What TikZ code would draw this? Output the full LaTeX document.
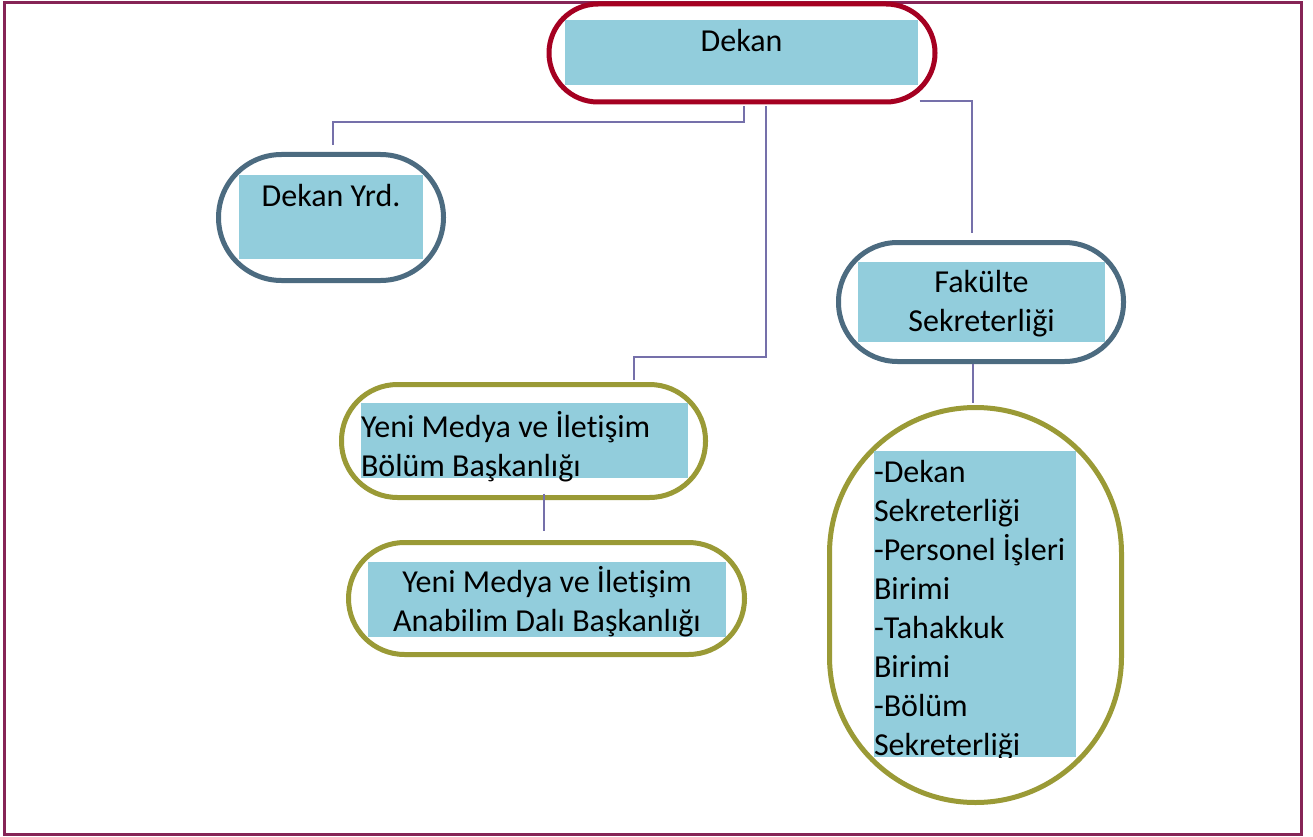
\documentclass[tikz,border=0pt]{standalone}
\usepackage{fontspec}
\newfontfamily\orgfont[Ligatures=NoCommon]{Carlito}
\usepackage{xcolor}
\usepackage{tikz}
\usetikzlibrary{positioning,calc}

\definecolor{deanred}{HTML}{A50021}
\definecolor{slategrey}{HTML}{4C6B80}
\definecolor{olivegreen}{HTML}{9A9A36}
\definecolor{boxblue}{HTML}{92CDDC}
\definecolor{linkblue}{HTML}{7570AA}
\definecolor{framecol}{HTML}{862456}

\newcommand\orgtext{\orgfont\fontsize{32}{39}\selectfont}

\tikzset{
	ring/.style={draw=#1, line width=5pt, fill=white, inner sep=0pt},
	fillbox/.style={fill=boxblue, inner sep=0pt},
	lbl/.style={inner sep=0pt, font=\orgtext, execute at begin node=\strut},
	link/.style={draw=linkblue, line width=2pt},
}

\begin{document}
\begin{tikzpicture}[x=1pt,y=-1pt]
		\useasboundingbox (0,0) rectangle (1313,837);
		\draw[framecol, line width=3pt] (4,2.5) rectangle (1301,834);
		%
		% outlines
		\node[ring=deanred, rounded corners=49, minimum width=386, minimum height=98] (D) at (742,53) {};
		\node[ring=slategrey, rounded corners=63, minimum width=225, minimum height=126] (DY) at (331,217.5) {};
		\node[ring=slategrey, rounded corners=59, minimum width=285, minimum height=119] (FS) at (981,302) {};
		\node[ring=olivegreen, rounded corners=56, minimum width=364, minimum height=113] (BB) at (523.5,441) {};
		\node[ring=olivegreen, rounded corners=56, minimum width=396, minimum height=112] (AB) at (546.5,598.5) {};
		\node[ring=olivegreen, rounded corners=146, minimum width=292, minimum height=395] (BR) at (975.5,605) {};
		%
		% blue boxes
		\node[fillbox, minimum width=353, minimum height=65] (D') at (741.5,52.5) {};
		\node[fillbox, minimum width=184, minimum height=84] (DY') at (331,217) {};
		\node[fillbox, minimum width=247, minimum height=80] (FS') at (981.5,302) {};
		\node[fillbox, minimum width=327, minimum height=75] (BB') at (524.5,440.5) {};
		\node[fillbox, minimum width=358, minimum height=75] (AB') at (547,599.5) {};
		\node[fillbox, minimum width=202, minimum height=306] (BR') at (975,604) {};
		%
		% texts
		\node[lbl, anchor=north, below=4.7pt of D'.north] (D'') {Dekan};
		\node[lbl, anchor=north, below=3.7pt of DY'.north] (DY'') {Dekan Yrd.};
		\node[lbl, align=center, below=8.5pt of FS'.north] (FS'') {Fakülte\\Sekreterliği};
		\node[lbl, align=left, below right=8pt and 0pt of BB'.north west] (BB'') {Yeni Medya ve İletişim\\Bölüm Başkanlığı};
		\node[lbl, align=center, below=4.5pt of AB'.north] (AB'') {Yeni Medya ve İletişim\\Anabilim Dalı Başkanlığı};
		\begin{scope}
			\clip (BR'.north west) rectangle (BR'.south east);
			\node[lbl, align=left, below right=9pt and 0pt of BR'.north west] (BR'') {-Dekan\\Sekreterliği\\-Personel İşleri\\Birimi\\-Tahakkuk\\Birimi\\-Bölüm\\Sekreterliği};
		\end{scope}
		%
		% connectors
		\draw[link] ($(D.south)+(2,2)$) |- ($(DY.north)+(2,-29.5)$) -- ($(DY.north)+(2,-6.5)$);
		\draw[link] ($(D.south)+(24,2)$) |- ($(BB.north)+(110.5,-25.5)$) -- ($(BB.north)+(110.5,-2.5)$);
		\draw[link] ($(D.south east)+(-18,-3)$) -| ($(FS.north)+(-9,-7.5)$);
		\draw[link] ($(BR.north)+(-2.5,-41.5)$) -- ($(BR.north)+(-2.5,-2.5)$);
		\draw[link] ($(AB.north)+(-2.5,-46.5)$) -- ($(AB.north)+(-2.5,-9.5)$);
	\end{tikzpicture}
\end{document}
